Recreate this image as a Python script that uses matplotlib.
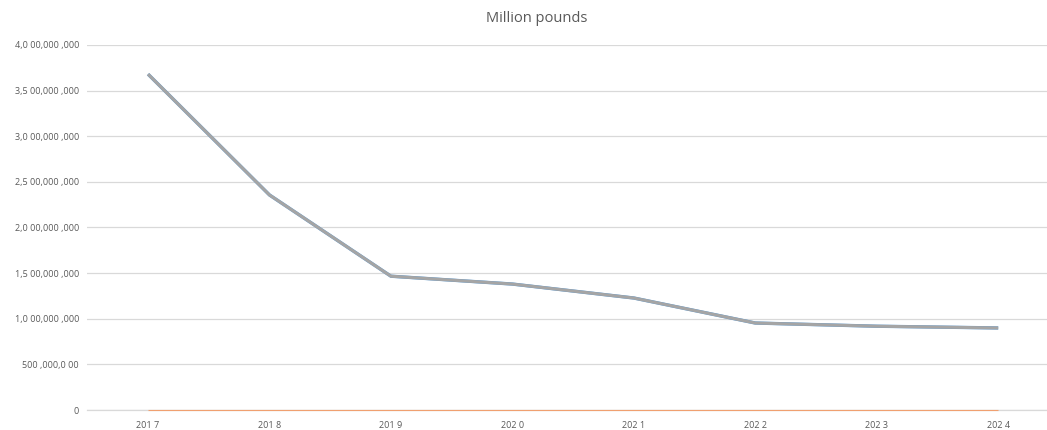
import matplotlib
matplotlib.use("Agg")
import matplotlib.pyplot as plt

plt.rcParams['font.family'] = ['Open Sans', 'DejaVu Sans']

# Category labels and series values
years = ["201 7", "201 8", "201 9", "202 0", "202 1", "202 2", "202 3", "202 4"]
pounds_main = [3.68e9, 2.356e9, 1.466e9, 1.38e9, 1.227e9, 0.953e9, 0.918e9, 0.899e9]
pounds_alt = [3.68e9, 2.356e9, 1.466e9, 1.38e9, 1.227e9, 0.953e9, 0.918e9, 0.899e9]
pounds_zero = [0, 0, 0, 0, 0, 0, 0, 0]

y_ticks = [0, 0.5e9, 1.0e9, 1.5e9, 2.0e9, 2.5e9, 3.0e9, 3.5e9, 4.0e9]
y_tick_labels = ["0", "500 ,000,0 00", "1,0 00,000 ,000", "1,5 00,000 ,000",
                 "2,0 00,000 ,000", "2,5 00,000 ,000", "3,0 00,000 ,000",
                 "3,5 00,000 ,000", "4,0 00,000 ,000"]

fig = plt.figure(figsize=(10.47, 4.30), dpi=100)
ax = fig.add_axes([0.0834, 0.0465, 0.928, 0.849])

x = list(range(len(years)))
ax.plot(x, pounds_zero, color="#F0A070", lw=0.8, zorder=3,
        solid_capstyle="butt", clip_on=False)
ax.plot(x, pounds_alt, color="#5B9BD5", lw=2.4, zorder=4, solid_capstyle="butt")
ax.plot(x, pounds_main, color="#A5A5A5", lw=2.2, zorder=5, solid_capstyle="butt")

ax.set_xlim(-0.5, len(years) - 0.5)
ax.set_ylim(0, 4.0e9)
ax.set_yticks(y_ticks)
ax.set_yticklabels(y_tick_labels)
ax.set_xticks(x)
ax.set_xticklabels(years)

ax.grid(axis="y", color="#D9D9D9", lw=0.9)
ax.set_axisbelow(True)
for side in ["top", "right", "left"]:
    ax.spines[side].set_visible(False)
ax.spines["bottom"].set_color("#D9D9D9")
ax.spines["bottom"].set_linewidth(0.9)
ax.spines["bottom"].set_zorder(1)

ax.tick_params(axis="both", length=0, labelsize=6.5, labelcolor="#595959")
ax.tick_params(axis="y", pad=6)
ax.tick_params(axis="x", pad=8)

fig.text(0.513, 0.957, "Million pounds", ha="center", va="center",
         fontsize=10.5, color="#595959")

fig.savefig("out.png", dpi=100)
